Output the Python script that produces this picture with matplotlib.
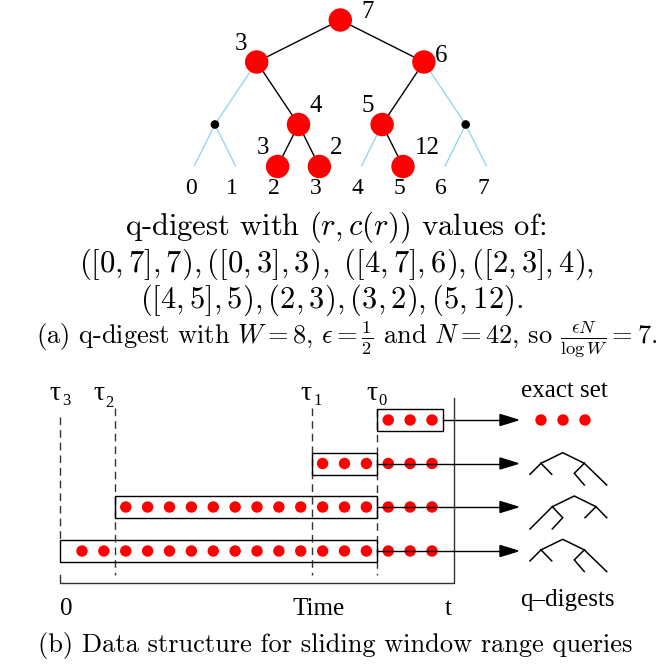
import numpy as np
import matplotlib
matplotlib.use("Agg")
import matplotlib.pyplot as plt
from matplotlib.patches import Circle, Rectangle, Polygon

plt.rcParams['mathtext.fontset'] = 'cm'

# ---- q-digest contents: node ranges [lo, hi] and their counts c(r) ----
node_lo = [0, 0, 4, 2, 4, 2, 3, 5]
node_hi = [7, 3, 7, 3, 5, 2, 3, 5]
node_count = [7, 3, 6, 4, 5, 3, 2, 12]
leaf_labels = ["0", "1", "2", "3", "4", "5", "6", "7"]
universe_W = 8
eps_num, eps_den = 1, 2
total_N = 42

# ---- sliding window: boundaries tau_0..tau_3 in arrival slots ----
tau_names = ["0", "1", "2", "3"]
tau_time = [13.5, 10.5, 1.5, -1.0]
n_items = 17
exact_items = 3
axis_labels = ["0", "Time", "t"]
axis_label_time = [-0.7, 10.8, 16.75]

# ---- layout (pixel space) ----
W_PX, H_PX = 663, 665
fig = plt.figure(figsize=(W_PX / 100, H_PX / 100), dpi=100)
ax = fig.add_axes([0, 0, 1, 1])
ax.set_xlim(0, W_PX)
ax.set_ylim(H_PX, 0)
ax.axis('off')

RED = '#ff0000'
BLUE = '#8fd0f5'
SERIF = 'Liberation Serif'
CM = 'cmr10'

leaf_x0, leaf_dx = 194.0, 41.8
level_y = [20, 62, 124.5, 166.5]
depth_total = int(np.log2(universe_W))
node_r, dot_r = 11.0, 3.6
count_offset = [(27, -8), (-16, -18), (17, -6), (17, -18),
                (-14, -18), (-15, -18), (17, -18), (24, -18)]


def node_xy(lo, hi):
    x = leaf_x0 + leaf_dx * (lo + hi) / 2.0
    depth = depth_total - int(round(np.log2(hi - lo + 1)))
    return x, level_y[depth]


digest = {(lo, hi): c for lo, hi, c in zip(node_lo, node_hi, node_count)}
hollow = []


def draw_edges(lo, hi):
    if lo == hi:
        return
    mid = (lo + hi) // 2
    x0, y0 = node_xy(lo, hi)
    for clo, chi in ((lo, mid), (mid + 1, hi)):
        x1, y1 = node_xy(clo, chi)
        kept = (clo, chi) in digest
        ax.plot([x0, x1], [y0, y1], color='black' if kept else BLUE,
                lw=1.0 if kept else 0.9, zorder=1, solid_capstyle='butt')
        if not kept and clo != chi:
            hollow.append((clo, chi))
        draw_edges(clo, chi)


draw_edges(0, universe_W - 1)

for lo, hi in hollow:
    ax.add_patch(Circle(node_xy(lo, hi), dot_r, color='black', zorder=3))

for i, (lo, hi) in enumerate(zip(node_lo, node_hi)):
    x, y = node_xy(lo, hi)
    ax.add_patch(Circle((x, y), node_r, color=RED, zorder=3))
    dx, dy = count_offset[i]
    ax.text(x + dx, y + dy, str(node_count[i]), family=SERIF, fontsize=18,
            ha='center', va='center')

for i, lab in enumerate(leaf_labels):
    ax.text(leaf_x0 + leaf_dx * i - 3.5, 189, lab, family=SERIF, fontsize=17,
            ha='center', va='center')


# ---- caption (a), built from the digest contents ----
def fmt_node(lo, hi, c):
    r = f"[{lo},{hi}]" if lo != hi else f"{lo}"
    return f"({r},{c})"


tuples = [fmt_node(lo, hi, c) for lo, hi, c in zip(node_lo, node_hi, node_count)]
line2 = "$" + ",".join(tuples[:2]) + ",\\ " + ",".join(tuples[2:4]) + ",$"
line3 = "$" + ",".join(tuples[4:]) + ".$"

cap_fs = 22
sub_fs = 19
ax.text(336, 235, r"q-digest with $(r,c(r))$ values of:", family=CM,
        fontsize=cap_fs, ha='center', va='baseline')
ax.text(337, 272, line2, family=CM, fontsize=cap_fs, ha='center', va='baseline')
ax.text(332, 308, line3, family=CM, fontsize=cap_fs, ha='center', va='baseline')
ratio = total_N * eps_num // (eps_den * depth_total)
cap_a = (rf"(a) q-digest with $W={universe_W}$, $\epsilon=\frac{{{eps_num}}}{{{eps_den}}}$"
         rf" and $N={total_N}$, so $\frac{{\epsilon N}}{{\log W}}={ratio}$.")
ax.text(347, 344, cap_a, family=CM, fontsize=sub_fs, ha='center', va='baseline')

# ---- sliding-window structure ----
slot_x0, slot_dx = 82.0, 21.875
row_y = [420, 463.5, 507, 551]
box_h = 22.0
item_r = 5.0
axis_y = 583
GRAY = '#333333'


def tx(t):
    return slot_x0 + slot_dx * t


# dashed window boundaries
tau_top = [409, 408, 408, 417]
tau_bot = [575, 575, 575, 540]
for k, t in enumerate(tau_time):
    ax.plot([tx(t), tx(t)], [tau_top[k], tau_bot[k]], color=GRAY, lw=1.0,
            linestyle=(0, (5.5, 3.6)), zorder=1)

# time axis
t_end = tx(n_items)
ax.plot([tx(tau_time[-1]), tx(tau_time[-1]), t_end, t_end],
        [575, axis_y, axis_y, 398], color=GRAY, lw=1.0, zorder=1)

arrow_end = 518
head_len, head_half = 18, 5.5
for k, t in enumerate(tau_time):
    y = row_y[k]
    left = tx(t)
    right = tx(tau_time[0]) if k > 0 else tx(n_items - 0.5)
    ax.add_patch(Rectangle((left, y - box_h / 2), right - left, box_h,
                           fill=False, ec='black', lw=1.0, zorder=2))
    for s in range(int(np.floor(t)) + 1, n_items):
        ax.add_patch(Circle((tx(s), y), item_r, color=RED, zorder=3))
    ax.plot([right, arrow_end - head_len], [y, y], color='black', lw=1.0, zorder=4)
    ax.add_patch(Polygon([(arrow_end - head_len, y - head_half), (arrow_end, y),
                          (arrow_end - head_len, y + head_half)],
                         closed=True, color='black', zorder=4))

# tau labels
tau_dx = [-5.5, -5.5, -16, -5]
for k, t in enumerate(tau_time):
    x = tx(t) + tau_dx[k]
    ax.text(x, 400, "τ", family=SERIF, fontsize=20, ha='center', va='baseline')
    ax.text(x + 11, 405 if k != 2 else 407, tau_names[k], family=SERIF,
            fontsize=12, ha='center', va='baseline')

# exact set
for j in range(exact_items):
    ax.add_patch(Circle((541 + 22 * j, row_y[0]), item_r, color=RED, zorder=3))
ax.text(564, 397, "exact set", family=SERIF, fontsize=18, ha='center', va='baseline')

# small q-digest icons
icon_a = [[(-21.7, 10.6), (0, 0), (21.6, 10.6)],
          [(-21.7, 10.6), (-32.7, 21.6)],
          [(-21.7, 10.6), (-11.0, 21.6)],
          [(21.6, 10.6), (44.0, 32.3)],
          [(21.6, 10.6), (11.6, 20.6), (21.6, 32.3)]]
icon_b = [[(-22.0, 10.7), (0, 0), (21.7, 10.7)],
          [(-22.0, 10.7), (-44.3, 33.0)],
          [(-22.0, 10.7), (-11.6, 21.7), (-22.0, 33.0)],
          [(21.7, 10.7), (32.4, 21.7)],
          [(21.7, 10.7), (10.7, 21.7)]]
icon_apex = [(562.7, row_y[1] - 10.8), (574.3, row_y[2] - 11.0), (562.7, row_y[3] - 11.7)]
for (axp, ayp), icon in zip(icon_apex, [icon_a, icon_b, icon_a]):
    for seg in icon:
        xs = [axp + p[0] for p in seg]
        ys = [ayp + p[1] for p in seg]
        ax.plot(xs, ys, color='black', lw=1.1, solid_joinstyle='miter')

ax.text(567, 606, "q–digests", family=SERIF, fontsize=18, ha='center', va='baseline')

for lab, t in zip(axis_labels, axis_label_time):
    ax.text(tx(t), 615, lab, family=SERIF, fontsize=18, ha='center', va='baseline')

ax.text(335, 652, "(b) Data structure for sliding window range queries", family=CM,
        fontsize=sub_fs, ha='center', va='baseline')

fig.savefig("out.png", dpi=100)
